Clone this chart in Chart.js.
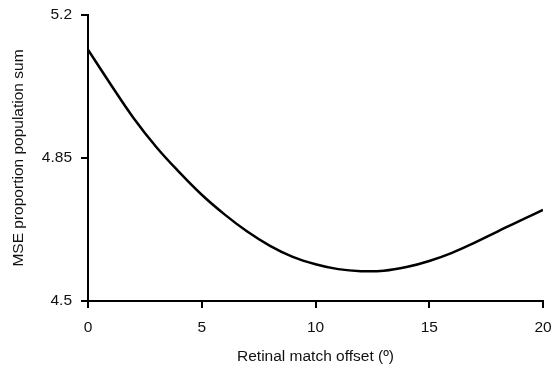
<!DOCTYPE html>
<html>
<head>
<meta charset="utf-8">
<script src="https://cdn.jsdelivr.net/npm/chart.js@4/dist/chart.umd.min.js"></script>
<style>
html,body{margin:0;padding:0;background:#fff;}
#wrap{width:553px;height:366px;}
</style>
</head>
<body>
<div id="wrap"><canvas id="c" width="553" height="366"></canvas></div>
<script>
const offsets = [0,1,2,3,4,5,6,7,8,9,10,11,12,13,14,15,16,17,18,19,20];
const mseValues = [5.115,5.030,4.948,4.877,4.816,4.760,4.712,4.670,4.635,4.608,4.590,4.578,4.573,4.574,4.583,4.598,4.618,4.643,4.670,4.697,4.723];
const yTicks = [4.5,4.85,5.2];
const xTicks = [0,5,10,15,20];
const xTitle = 'Retinal match offset (º)';
const yTitle = 'MSE proportion population sum';

const FONT = {family:'"Liberation Sans", Arial, Helvetica, sans-serif', size:15.5};
const TXT = '#111';

new Chart(document.getElementById('c'), {
  type:'line',
  data:{
    datasets:[{
      data: offsets.map((x,i)=>({x:x,y:mseValues[i]})),
      borderColor:'#000',
      borderWidth:2.5,
      pointRadius:0,
      fill:false,
      tension:0.4
    }]
  },
  options:{
    responsive:false,
    animation:false,
    devicePixelRatio:1,
    layout:{padding:{top:15,right:10,left:0,bottom:0}},
    plugins:{legend:{display:false},tooltip:{enabled:false}},
    scales:{
      x:{
        type:'linear',
        min:0,max:20,
        afterBuildTicks:s=>{s.ticks = xTicks.map(v=>({value:v}));},
        afterFit:s=>{s.height = 65; s.paddingLeft = 0; s.paddingRight = 0;},
        border:{display:true,color:'#000',width:2},
        grid:{drawOnChartArea:false,color:'#000',lineWidth:2,tickLength:7},
        ticks:{color:TXT,font:FONT,padding:10,maxRotation:0},
        title:{display:true,text:xTitle,color:TXT,font:FONT,padding:{top:0,bottom:0}}
      },
      y:{
        type:'linear',
        min:4.5,max:5.2,
        afterBuildTicks:s=>{s.ticks = yTicks.map(v=>({value:v}));},
        afterFit:s=>{s.width = 88; s.paddingTop = 0; s.paddingBottom = 0;},
        border:{display:true,color:'#000',width:2},
        grid:{drawOnChartArea:false,color:'#000',lineWidth:2,tickLength:7},
        ticks:{color:TXT,font:FONT,padding:9,callback:v=>String(v)},
        title:{display:true,text:yTitle,color:TXT,font:FONT,padding:{top:9,bottom:0}}
      }
    }
  }
});
</script>
</body>
</html>
